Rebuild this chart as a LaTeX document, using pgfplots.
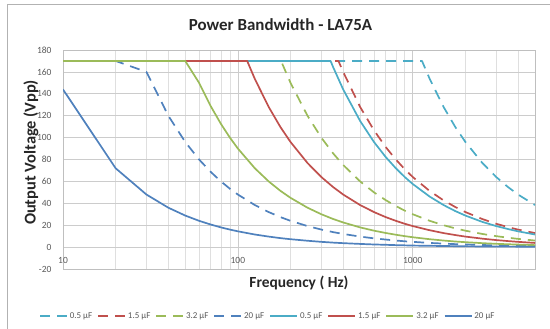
\documentclass[border=0pt]{standalone}
\usepackage{pgfplots}
\pgfplotsset{compat=1.18}
\usepackage{fontspec}
\setmainfont{Carlito}
\definecolor{caqua}{HTML}{4BACC6}
\definecolor{cred}{HTML}{C0504D}
\definecolor{cgreen}{HTML}{9BBB59}
\definecolor{cblue}{HTML}{4F81BD}
\definecolor{ctxt}{HTML}{595959}
\begin{document}
\begin{tikzpicture}
\useasboundingbox (0,0) rectangle (550bp,329bp);
\draw[gray!60, line width=0.8bp] (7bp,0) -- (7bp,325bp) -- (550bp,325bp);
\node[font=\bfseries\fontsize{17}{20}\selectfont, text=black!85] at (280.5bp,304bp) {Power Bandwidth - LA75A};
\node[font=\bfseries\fontsize{15.5}{18}\selectfont, text=black!85] at (299bp,46bp) {Frequency ( Hz)};
\node[font=\bfseries\fontsize{16.5}{19}\selectfont, text=black!85, rotate=90] at (31bp,176.5bp) {Output Voltage (Vpp)};
\begin{axis}[
  at={(63bp,60bp)}, anchor=south west,
  scale only axis, width=472bp, height=219bp,
  xmode=log, log basis x=10,
  xmin=10, xmax=5000, ymin=-20, ymax=180,
  xtick={10,100,1000}, xticklabels={10,100,1000},
  minor xtick={20,30,40,50,60,70,80,90,200,300,400,500,600,700,800,900,2000,3000,4000},
  ytick={-20,0,20,40,60,80,100,120,140,160,180},
  xmajorgrids, xminorgrids, ymajorgrids,
  major grid style={gray!40, line width=0.6bp},
  minor grid style={gray!25, line width=0.6bp},
  axis line style={gray!50, line width=0.7bp},
  major tick length=0pt, minor tick length=0pt,
  /pgf/number format/assume math mode=true,
  tick label style={font=\fontsize{9.5}{11}\selectfont, text=ctxt},
  xticklabel style={anchor=center, yshift=8.5bp},
  yticklabel style={anchor=east, xshift=-8bp},
  legend columns=8,
  legend style={at={(0.434,-0.2146)}, anchor=center, draw=none, fill=none,
    font=\fontsize{9}{10}\selectfont, text=ctxt,
    /tikz/every even column/.append style={column sep=3bp}},
  legend image code/.code={\draw[#1] (0bp,0bp) -- (27bp,0bp);},
  every axis plot/.append style={line width=1.7bp, line join=round},
  dsh/.style={dash pattern=on 10bp off 7bp},
]
\addplot[caqua, dsh] coordinates {(10,170)(1129,170)(1250,153.6)(1500,128)(1750,109.7)(2000,96)(2500,76.8)(3000,64)(3500,54.9)(4000,48)(5000,38.4)};
\addlegendentry{0.5 µF}
\addplot[cred, dsh] coordinates {(10,170)(376,170)(400,160)(500,128)(600,106.7)(700,91.4)(800,80)(900,71.1)(1000,64)(1250,51.2)(1500,42.7)(1750,36.6)(2000,32)(2500,25.6)(3000,21.3)(3500,18.3)(4000,16)(5000,12.8)};
\addlegendentry{1.5 µF}
\addplot[cgreen, dsh] coordinates {(10,170)(176.5,170)(200,150)(250,120)(300,100)(350,85.7)(400,75)(500,60)(600,50)(700,42.9)(800,37.5)(900,33.3)(1000,30)(1250,24)(1500,20)(1750,17.1)(2000,15)(2500,12)(3000,10)(3500,8.6)(4000,7.5)(5000,6)};
\addlegendentry{3.2 µF}
\addplot[cblue, dsh] coordinates {(10,170)(20,170)(30,160)(40,120)(50,96)(60,80)(70,68.6)(80,60)(90,53.3)(100,48)(125,38.4)(150,32)(175,27.4)(200,24)(250,19.2)(300,16)(350,13.7)(400,12)(500,9.6)(600,8)(700,6.9)(800,6)(900,5.3)(1000,4.8)(1250,3.8)(1500,3.2)(1750,2.7)(2000,2.4)(2500,1.9)(3000,1.6)(3500,1.4)(4000,1.2)(5000,1)};
\addlegendentry{20 µF}
\addplot[caqua] coordinates {(10,170)(339,170)(350,164.6)(400,144)(500,115.2)(600,96)(700,82.3)(800,72)(900,64)(1000,57.6)(1250,46.1)(1500,38.4)(1750,32.9)(2000,28.8)(2500,23)(3000,19.2)(3500,16.5)(4000,14.4)(5000,11.5)};
\addlegendentry{0.5 µF}
\addplot[cred] coordinates {(10,170)(113,170)(125,153.6)(150,128)(175,109.7)(200,96)(250,76.8)(300,64)(350,54.9)(400,48)(500,38.4)(600,32)(700,27.4)(800,24)(900,21.3)(1000,19.2)(1250,15.4)(1500,12.8)(1750,11)(2000,9.6)(2500,7.7)(3000,6.4)(3500,5.5)(4000,4.8)(5000,3.8)};
\addlegendentry{1.5 µF}
\addplot[cgreen] coordinates {(10,170)(50,170)(60,150)(70,128.6)(80,112.5)(90,100)(100,90)(125,72)(150,60)(175,51.4)(200,45)(250,36)(300,30)(350,25.7)(400,22.5)(500,18)(600,15)(700,12.9)(800,11.3)(900,10)(1000,9)(1250,7.2)(1500,6)(1750,5.1)(2000,4.5)(2500,3.6)(3000,3)(3500,2.6)(4000,2.3)(5000,1.8)};
\addlegendentry{3.2 µF}
\addplot[cblue] coordinates {(10,144)(20,72)(30,48)(40,36)(50,28.8)(60,24)(70,20.6)(80,18)(90,16)(100,14.4)(125,11.5)(150,9.6)(175,8.2)(200,7.2)(250,5.8)(300,4.8)(350,4.1)(400,3.6)(500,2.9)(600,2.4)(700,2.1)(800,1.8)(900,1.6)(1000,1.4)(1500,1)(2000,0.7)(3000,0.5)(4000,0.4)(5000,0.3)};
\addlegendentry{20 µF}
\end{axis}
\end{tikzpicture}
\end{document}
